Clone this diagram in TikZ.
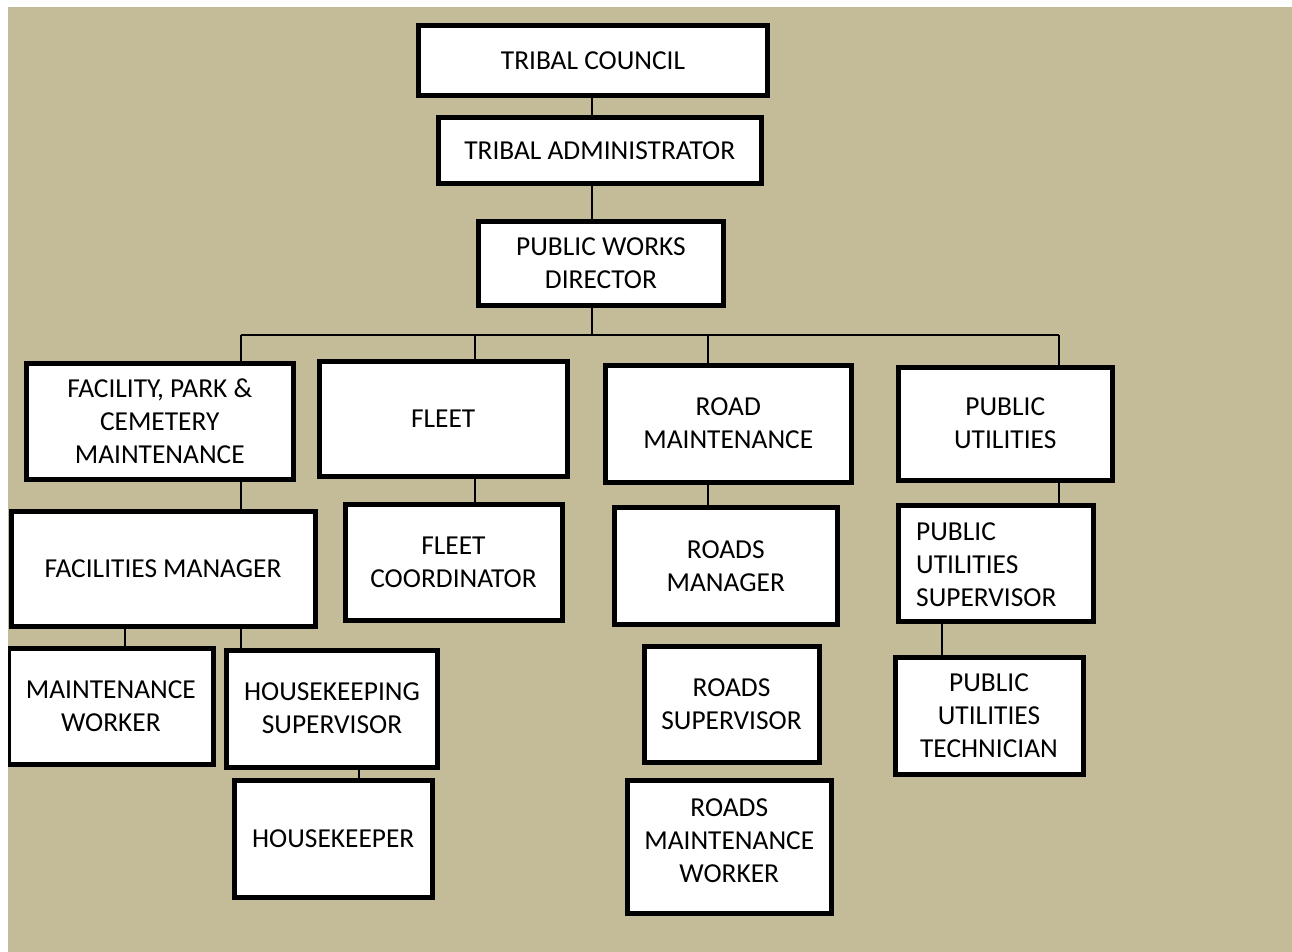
\documentclass[tikz,border=0pt]{standalone}
\usepackage{fontspec}
\setmainfont{Carlito}
\definecolor{bgbeige}{HTML}{C4BC98}
\tikzset{
  orgbox/.style={draw=black, line width=5pt, fill=white, inner sep=0pt, align=center,
    font=\fontsize{27.4}{32.8}\selectfont},
  lbl/.style={inner sep=0pt, align=center, font=\fontsize{27.4}{32.8}\selectfont},
  conn/.style={draw=black, line width=2pt},
}
\begin{document}
\begin{tikzpicture}[x=1pt,y=-1pt]
\useasboundingbox (0,0) rectangle (1292,952);
\fill[bgbeige] (8,7) rectangle (1292,952);
\begin{scope}
\clip (8,7) rectangle (1292,952);
% coordinates for spine and bus
\coordinate (spine) at (592,335);
\coordinate (busL) at (241,335);
\coordinate (busF) at (475,335);
\coordinate (busR) at (708,335);
\coordinate (busP) at (1059,335);
\coordinate (fmL) at (124.5,0);
\coordinate (fmR) at (241,0);
\coordinate (hsX) at (358.5,0);
\coordinate (pusX) at (941.8,0);

\node[orgbox, minimum width=349, minimum height=70] (tc) at (593,61) {TRIBAL COUNCIL};
\node[orgbox, minimum width=323.5, minimum height=66.5] (ta) at (599.75,150.75) {TRIBAL ADMINISTRATOR};
\node[orgbox, minimum width=245, minimum height=84] (pwd) at (601,263.5) {PUBLIC WORKS\\DIRECTOR};
\node[orgbox, minimum width=266.5, minimum height=115.5] (fac) at (159.75,421.25) {FACILITY, PARK \&\\CEMETERY\\MAINTENANCE};
\node[orgbox, minimum width=247.5, minimum height=114.5] (fleet) at (443.25,418.75) {FLEET};
\node[orgbox, minimum width=245.5, minimum height=117] (road) at (728.25,423.5) {ROAD\\MAINTENANCE};
\node[orgbox, minimum width=213.5, minimum height=113] (pu) at (1005.25,423.5) {PUBLIC\\UTILITIES};
\node[orgbox, minimum width=304, minimum height=115.5] (fm) at (163,568.75) {FACILITIES MANAGER};
\node[orgbox, minimum width=217, minimum height=115.5] (fc) at (453.5,562.5) {FLEET\\COORDINATOR};
\node[orgbox, minimum width=222.5, minimum height=116.5] (rm) at (725.75,566) {ROADS\\MANAGER};
\node[orgbox, minimum width=195, minimum height=116.5] (pus) at (996,563.25) {};
\node[lbl, anchor=west, align=left] (pust) at (916,565) {PUBLIC\\UTILITIES\\SUPERVISOR};
\node[orgbox, minimum width=205.3, minimum height=116.5] (mw) at (110.85,706.5) {MAINTENANCE\\WORKER};
\node[orgbox, minimum width=211, minimum height=117] (hs) at (332,708.5) {HOUSEKEEPING\\SUPERVISOR};
\node[orgbox, minimum width=198.5, minimum height=117] (hk) at (333.25,839) {HOUSEKEEPER};
\node[orgbox, minimum width=175, minimum height=116] (rs) at (731.5,704) {ROADS\\SUPERVISOR};
\node[orgbox, minimum width=204.5, minimum height=133.5] (rmw) at (729.25,846.75) {};
\node[lbl] (rmwt) at (729.25,840.5) {ROADS\\MAINTENANCE\\WORKER};
\node[orgbox, minimum width=188, minimum height=117] (put) at (989,715.5) {PUBLIC\\UTILITIES\\TECHNICIAN};

\draw[conn] (spine |- tc.south) -- (spine |- ta.north);
\draw[conn] (spine |- ta.south) -- (spine |- pwd.north);
\draw[conn] (spine |- pwd.south) -- (spine);
\draw[conn] (busL) -- (busP);
\draw[conn] (busL) -- (busL |- fac.north);
\draw[conn] (busF) -- (busF |- fleet.north);
\draw[conn] (busR) -- (busR |- road.north);
\draw[conn] (busP) -- (busP |- pu.north);
\draw[conn] (busL |- fac.south) -- (busL |- fm.north);
\draw[conn] (fmL |- fm.south) -- (fmL |- mw.north);
\draw[conn] (fmR |- fm.south) -- (fmR |- hs.north);
\draw[conn] (hsX |- hs.south) -- (hsX |- hk.north);
\draw[conn] (busF |- fleet.south) -- (busF |- fc.north);
\draw[conn] (busR |- road.south) -- (busR |- rm.north);
\draw[conn] (busP |- pu.south) -- (busP |- pus.north);
\draw[conn] (pusX |- pus.south) -- (pusX |- put.north);
\end{scope}
\end{tikzpicture}
\end{document}
